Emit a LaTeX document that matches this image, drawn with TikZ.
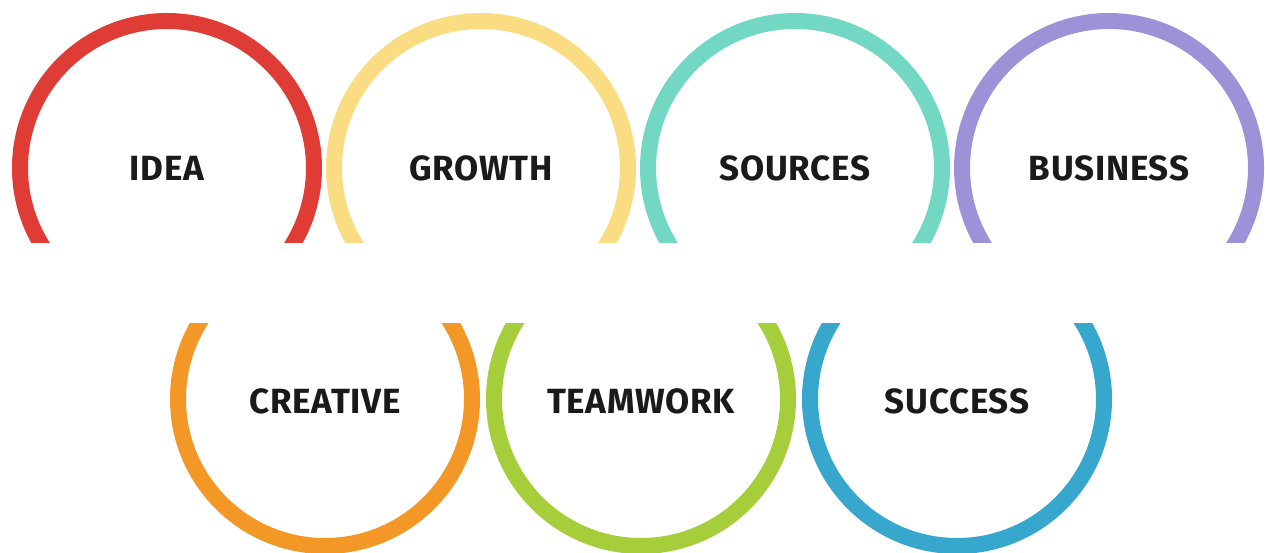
\documentclass[tikz,border=0pt]{standalone}
\usepackage{fontspec}
\setmainfont{Fira Sans}[LetterSpace=2]
\definecolor{cRed}{HTML}{E03C36}
\definecolor{cYellow}{HTML}{FADC82}
\definecolor{cTeal}{HTML}{72D8C4}
\definecolor{cPurple}{HTML}{9D92D8}
\definecolor{cOrange}{HTML}{F39827}
\definecolor{cGreen}{HTML}{A6CE3A}
\definecolor{cBlue}{HTML}{38A7CE}
\definecolor{cText}{HTML}{1A1A1A}
\tikzset{
  ring/.style={line width=16pt},
  word/.style={anchor=base, text=cText, font=\fontsize{35}{40}\selectfont\bfseries, inner sep=0pt}
}
\begin{document}
\begin{tikzpicture}[x=1pt,y=1pt]
\useasboundingbox[fill=white] (0,0) rectangle (1265,553);
\foreach \cx/\col/\txt/\nm in {167/cRed/IDEA/a,481/cYellow/GROWTH/b,795/cTeal/SOURCES/c,1109/cPurple/BUSINESS/d}{
  \begin{scope}
    \clip (\cx-170,310) rectangle (\cx+170,560);
    \draw[ring, draw=\col] (\cx,385) circle[radius=147];
  \end{scope}
  \node[word] (\nm) at (\cx,372) {\txt};
}
\foreach \cx/\col/\txt/\nm in {325/cOrange/CREATIVE/e,641/cGreen/TEAMWORK/f,957/cBlue/SUCCESS/g}{
  \begin{scope}
    \clip (\cx-170,-10) rectangle (\cx+170,229);
    \draw[ring, draw=\col] (\cx,154) circle[radius=147];
  \end{scope}
  \node[word] (\nm) at (\cx,139) {\txt};
}
\end{tikzpicture}
\end{document}
